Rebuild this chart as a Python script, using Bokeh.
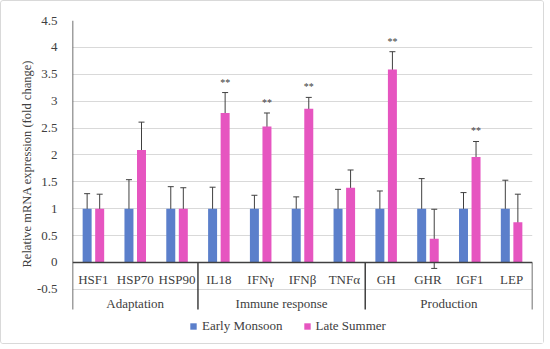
from bokeh.plotting import figure
from bokeh.models import (ColumnDataSource, FixedTicker, Whisker, Legend, LegendItem,
                          Span, CustomJSTickFormatter, Title)
from bokeh.core.properties import value
from bokeh.embed import file_html
from bokeh.resources import INLINE

genes = ["HSF1", "HSP70", "HSP90", "IL18", "IFN\u03b3", "IFN\u03b2", "TNF\u03b1", "GH", "GHR", "IGF1", "LEP"]
groups = ["Adaptation", "Immune response", "Production"]
group_sizes = [3, 4, 4]
early = [1.0, 1.0, 1.0, 1.0, 1.0, 1.0, 1.0, 1.0, 1.0, 1.0, 1.0]
early_err = [0.28, 0.54, 0.41, 0.40, 0.25, 0.22, 0.36, 0.33, 0.56, 0.30, 0.53]
late = [1.0, 2.09, 1.0, 2.78, 2.53, 2.86, 1.39, 3.59, 0.44, 1.96, 0.75]
late_err = [0.27, 0.52, 0.39, 0.38, 0.25, 0.21, 0.33, 0.33, 0.55, 0.29, 0.52]
sig = ["", "", "", "**", "**", "**", "", "**", "", "**", ""]
yticks = [-0.5, 0, 0.5, 1, 1.5, 2, 2.5, 3, 3.5, 4, 4.5]
ytop = 4.5
axis_bottom = -0.874

FONT = "Liberation Serif"
BLUE = "#5B7FCB"
PINK = "#E655C0"
INK = "#404040"

n = len(genes)
xc = [i + 0.5 for i in range(n)]
xb = [x - 0.15 for x in xc]
xp = [x + 0.15 for x in xc]

src = ColumnDataSource(dict(
    xb=xb, xp=xp, xc=xc, early=early, late=late,
    eu=[v + e for v, e in zip(early, early_err)], el=[v - e for v, e in zip(early, early_err)],
    lu=[v + e for v, e in zip(late, late_err)], ll=[v - e for v, e in zip(late, late_err)],
    genes=genes, sig=sig, laby=[-0.31] * n,
))

p = figure(width=544, height=344, x_range=(0, n), y_range=(-1.432, ytop),
           output_backend="svg", toolbar_location=None,
           min_border_left=71, min_border_top=19, min_border_right=13, min_border_bottom=6)
p.styles = {"border": "1px solid #d9d9d9", "border-radius": "3px"}
p.outline_line_color = None
p.xaxis.visible = False
p.xgrid.grid_line_color = None
p.ygrid.ticker = FixedTicker(ticks=yticks)
p.ygrid.grid_line_color = "#d9d9d9"
p.ygrid.grid_line_width = 1

ya = p.yaxis[0]
ya.ticker = FixedTicker(ticks=yticks)
ya.formatter = CustomJSTickFormatter(code="return String(tick);")
ya.major_tick_line_color = None
ya.minor_tick_line_color = None
ya.axis_line_color = None
ya.major_label_text_font = FONT
ya.major_label_text_font_size = "13px"
ya.major_label_text_color = INK
ya.major_label_standoff = 9

ytitle = Title(text="Relative mRNA expression (fold change)", align="left", offset=72,
               text_font=FONT, text_font_size="12.5px", text_font_style="normal",
               text_color=INK, standoff=0)
p.add_layout(ytitle, "left")

w = 0.215
rb = p.vbar(x="xb", top="early", width=w, source=src, fill_color=BLUE, line_color=None)
rp = p.vbar(x="xp", top="late", width=w, source=src, fill_color=PINK, line_color=None)

for up, lo, xx in (("eu", "el", "xb"), ("lu", "ll", "xp")):
    wh = Whisker(base=xx, upper=up, lower=lo, source=src, dimension="height",
                 line_color=INK, line_width=1)
    wh.upper_head.size = 6
    wh.lower_head.size = 6
    wh.upper_head.line_color = INK
    wh.lower_head.line_color = INK
    p.add_layout(wh)

p.text(x="xp", y="lu", text="sig", source=src, text_font=value(FONT), text_font_size="10px",
       text_align="center", text_baseline="bottom", y_offset=-5, text_color=INK)

# zero axis line and value axis line
p.add_layout(Span(location=0, dimension="width", line_color=INK, line_width=1.5))
p.segment(x0=[0], y0=[ytop], x1=[0], y1=[0], line_color=INK, line_width=1.5)

# category labels
p.text(x="xc", y="laby", text="genes", source=src, text_font=value(FONT),
       text_font_size="13px", text_align="center", text_baseline="middle", text_color=INK)

# group separators and labels
bounds = [0]
for s in group_sizes:
    bounds.append(bounds[-1] + s)
p.segment(x0=bounds, y0=[0] * len(bounds), x1=bounds, y1=[axis_bottom] * len(bounds),
          line_color=INK, line_width=1.5)
gmid = [(bounds[i] + bounds[i + 1]) / 2 for i in range(len(groups))]
p.text(x=gmid, y=[-0.76] * len(groups), text=groups, text_font=value(FONT),
       text_font_size="13px", text_align="center", text_baseline="middle", text_color=INK)

legend = Legend(items=[LegendItem(label="Early Monsoon", renderers=[rb]),
                       LegendItem(label="Late Summer", renderers=[rp])],
                orientation="horizontal", location=(117, 5),
                label_text_font=FONT, label_text_font_size="13px", label_text_color=INK,
                glyph_width=8, glyph_height=8, spacing=20, label_standoff=5,
                border_line_color=None, background_fill_alpha=0, padding=0, margin=0)
p.add_layout(legend, "center")

open("out.html", "w").write(file_html(p, INLINE))
